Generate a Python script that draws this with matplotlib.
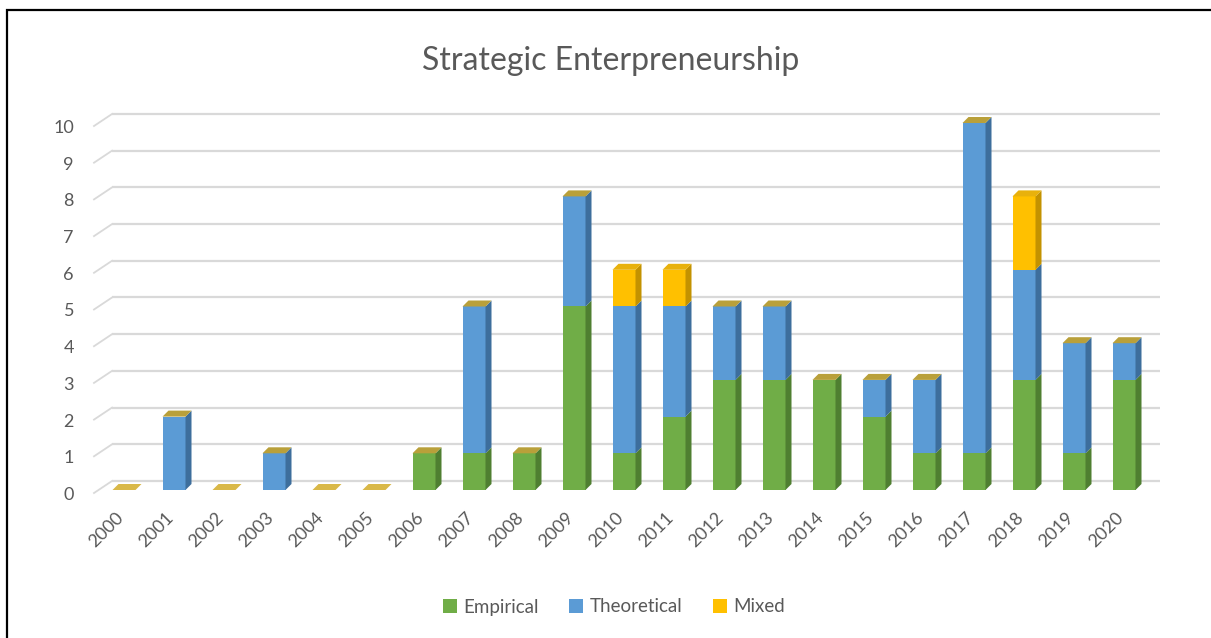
import matplotlib
matplotlib.use("Agg")
import matplotlib.pyplot as plt
from matplotlib.patches import Polygon, Rectangle, Patch

# ---- data -------------------------------------------------------------
years = [str(y) for y in range(2000, 2021)]
empirical   = [0, 0, 0, 0, 0, 0, 1, 1, 1, 5, 1, 2, 3, 3, 3, 2, 1, 1, 3, 1, 3]
theoretical = [0, 2, 0, 1, 0, 0, 0, 4, 0, 3, 4, 3, 2, 2, 0, 1, 2, 9, 3, 3, 1]
mixed       = [0, 0, 0, 0, 0, 0, 0, 0, 0, 0, 1, 1, 0, 0, 0, 0, 0, 0, 2, 0, 0]
y_ticks = list(range(0, 11))
series_names = ["Empirical", "Theoretical", "Mixed"]
title = "Strategic Enterpreneurship"

# ---- style ------------------------------------------------------------
FONT = ["Lato", "DejaVu Sans"]
plt.rcParams["font.family"] = FONT
TEXT = "#595959"
GRID = "#d9d9d9"
front_cols = ["#70AD47", "#5B9BD5", "#FFC000"]
side_cols = ["#4F7F31", "#3D6E9C", "#C39200"]
top_cols = ["#8CC063", "#7FB2E0", "#E8B10C"]
cap_col = "#B9A03A"          # flat cap left by an empty top series

W, H = 1211, 638
fig = plt.figure(figsize=(W / 100, H / 100), dpi=100)
ax = fig.add_axes([0, 0, 1, 1])

# layout in pixels: first category centre, category step, floor, unit height
x0_px, step_px = 124, 50
base_px, unit_px = 490, 36.7
ax.set_xlim((0 - x0_px) / step_px, (W - x0_px) / step_px)
ax.set_ylim((base_px - H) / unit_px, base_px / unit_px)
ax.axis("off")
px = 1.0 / step_px
py = 1.0 / unit_px

# ---- back wall gridlines + left wall edges ---------------------------
back_dy = 9 * py
x_wall = (112 - x0_px) * px
x_end = (1160 - x0_px) * px
x_side = (94 - x0_px) * px
for v in y_ticks:
    yb = v + back_dy
    ax.plot([x_wall, x_end], [yb, yb], color=GRID, lw=1.6,
            solid_capstyle="butt", zorder=1)
    ax.plot([x_side, x_wall], [yb - 12 * py, yb], color=GRID, lw=1.3,
            zorder=1)
    ax.text((74 - x0_px) * px, v - 5 * py, str(v), ha="right", va="center",
            fontsize=13, color=TEXT)

# ---- 3-D style stacked columns ----------------------------------------
w = 23 * px
dx = 6 * px
dy = 6 * py
series = [empirical, theoretical, mixed]
for i in range(len(years)):
    bottom = 0.0
    top_idx = None
    for k, vals in enumerate(series):
        v = vals[i]
        if v <= 0:
            continue
        l, r = i - w / 2, i + w / 2
        t = bottom + v
        ax.add_patch(Rectangle((l, bottom), w, v, facecolor=front_cols[k],
                               edgecolor="none", zorder=3))
        ax.add_patch(Polygon([(r, bottom), (r + dx, bottom + dy),
                              (r + dx, t + dy), (r, t)],
                             closed=True, facecolor=side_cols[k],
                             edgecolor="none", zorder=3))
        bottom = t
        top_idx = k
    l, r = i - w / 2, i + w / 2
    if top_idx is None:
        cap = "#D9B848"
    elif top_idx == 2:
        cap = top_cols[2]
    else:
        cap = cap_col
    ax.add_patch(Polygon([(l, bottom), (l + dx, bottom + dy),
                          (r + dx, bottom + dy), (r, bottom)],
                         closed=True, facecolor=cap, edgecolor="none",
                         zorder=4))
    # category label
    ax.text(i - 3 * px, -25 * py, years[i], rotation=45,
            rotation_mode="anchor", ha="right", va="center",
            fontsize=13, color=TEXT)

# ---- title, legend, frame --------------------------------------------
fig.text(0.504, 1 - 61 / H, title, ha="center", va="center",
         fontsize=23, color=TEXT)

handles = [Patch(facecolor=c, edgecolor="none") for c in front_cols]
fig.legend(handles, series_names, loc="center",
           bbox_to_anchor=(614 / W, 1 - 607 / H), ncol=3, frameon=False,
           fontsize=13.5, labelcolor=TEXT, handlelength=0.75,
           handleheight=0.75, handletextpad=0.35, columnspacing=1.6)

fig.add_artist(Rectangle((7 / W, -0.1), 1.2, 0.1 + 1 - 10 / H,
                         transform=fig.transFigure, fill=False,
                         edgecolor="black", lw=1.6, clip_on=False))

fig.savefig("out.png", dpi=100)
